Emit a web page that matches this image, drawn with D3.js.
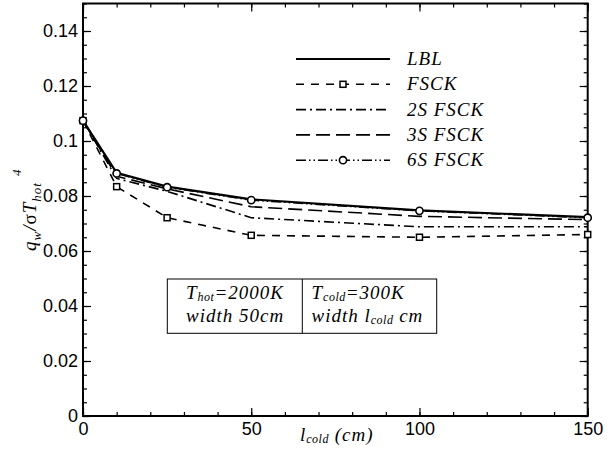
<!DOCTYPE html>
<meta charset="utf-8">
<style>
body { margin: 0; background: #fff; }
.tick text { font-family: "Liberation Sans", Arial, sans-serif; font-size: 18px; fill: #000; }
.axis path.domain { display: none; }
.axis line { stroke: #000; stroke-width: 1.2px; }
.lab { font-family: "Liberation Serif", "Times New Roman", serif; font-style: italic; font-size: 19px; letter-spacing: 1px; fill: #000; }
</style>
<body>
<svg id="chart"></svg>
<script src="https://d3js.org/d3.v7.min.js"></script>
<script>

var width = 613,
    height = 461;

// l_cold (cm)
var xs = [0, 10, 25, 50, 100, 150];

// q_w / sigma T_hot^4
var lbl  = [0.1074, 0.0884, 0.0834, 0.0788, 0.0748, 0.0723];
var fsck = [0.1074, 0.0834, 0.0721, 0.0657, 0.0650, 0.0660];
var s2   = [0.1074, 0.0864, 0.0817, 0.0721, 0.0688, 0.0688];
var s3   = [0.1074, 0.0872, 0.0826, 0.0761, 0.0726, 0.0714];
var s6   = [0.1074, 0.0882, 0.0832, 0.0785, 0.0746, 0.0721];

var names = ["LBL", "FSCK", "2S FSCK", "3S FSCK", "6S FSCK"];

var xMajor = [0, 50, 100, 150];
var yMajor = [0, 0.02, 0.04, 0.06, 0.08, 0.1, 0.12, 0.14];
var yLabels = ["0", "0.02", "0.04", "0.06", "0.08", "0.1", "0.12", "0.14"];

var series = [
  { name: names[0], vals: lbl,  dash: null,                   width: 2.2, mark: null },
  { name: names[1], vals: fsck, dash: "8,7",                  width: 1.6, mark: "square" },
  { name: names[2], vals: s2,   dash: "10,4,2,4",             width: 1.6, mark: null },
  { name: names[3], vals: s3,   dash: "14,6",                 width: 1.6, mark: null },
  { name: names[4], vals: s6,   dash: "10,3,1.5,3,1.5,3",     width: 1.6, mark: "circle" }
];

var x = d3.scaleLinear().domain([0, 150]).range([83, 587.7]);
var y = d3.scaleLinear().domain([0, 0.15]).range([416, 3.5]);

var svg = d3.select("#chart")
    .attr("width", width)
    .attr("height", height);

// minor + major ticks, all pointing inward
var xMinor = d3.range(0, 151, 10);
var yMinor = d3.range(0, 0.1501, 0.005);

function addAxis(gen, tx, ty) {
  return svg.append("g").attr("class", "axis")
      .attr("transform", "translate(" + tx + "," + ty + ")")
      .call(gen);
}

addAxis(d3.axisBottom(x).tickValues(xMinor).tickSize(-4).tickFormat(""), 0, 416);
addAxis(d3.axisBottom(x).tickValues(xMajor).tickSize(-8).tickPadding(6).tickFormat(d3.format("d")), 0, 416);
addAxis(d3.axisTop(x).tickValues(xMinor).tickSize(-4).tickFormat(""), 0, 3.5);
addAxis(d3.axisTop(x).tickValues(xMajor).tickSize(-8).tickFormat(""), 0, 3.5);

addAxis(d3.axisLeft(y).tickValues(yMinor).tickSize(-4).tickFormat(""), 83, 0);
addAxis(d3.axisLeft(y).tickValues(yMajor).tickSize(-8).tickPadding(5)
    .tickFormat(function(d, i) { return yLabels[i]; }), 83, 0);
addAxis(d3.axisRight(y).tickValues(yMinor).tickSize(-4).tickFormat(""), 587.7, 0);
addAxis(d3.axisRight(y).tickValues(yMajor).tickSize(-8).tickFormat(""), 587.7, 0);

// frame
svg.append("rect")
    .attr("x", x(0)).attr("y", y(0.15))
    .attr("width", x(150) - x(0)).attr("height", y(0) - y(0.15))
    .attr("fill", "none").attr("stroke", "#000").attr("stroke-width", 2);

var line = d3.line()
    .x(function(d) { return x(d[0]); })
    .y(function(d) { return y(d[1]); });

function drawMark(sel, kind) {
  if (kind === "square") {
    sel.append("rect")
        .attr("x", -3).attr("y", -3).attr("width", 6).attr("height", 6)
        .attr("fill", "#fff").attr("stroke", "#000").attr("stroke-width", 1.5);
  } else if (kind === "circle") {
    sel.append("circle")
        .attr("r", 3.6)
        .attr("fill", "#fff").attr("stroke", "#000").attr("stroke-width", 1.6);
  }
}

series.forEach(function(s) {
  var pts = xs.map(function(v, i) { return [v, s.vals[i]]; });
  svg.append("path")
      .datum(pts)
      .attr("d", line)
      .attr("fill", "none")
      .attr("stroke", "#000")
      .attr("stroke-width", s.width)
      .attr("stroke-dasharray", s.dash);
  if (s.mark) {
    svg.append("g").selectAll("g")
        .data(pts)
      .enter().append("g")
        .attr("transform", function(d) { return "translate(" + x(d[0]) + "," + y(d[1]) + ")"; })
        .each(function() { drawMark(d3.select(this), s.mark); });
  }
});

// legend
var legend = svg.append("g");
series.forEach(function(s, i) {
  var ly = 59 + i * 25.3;
  legend.append("line")
      .attr("x1", 296).attr("x2", 390).attr("y1", ly).attr("y2", ly)
      .attr("stroke", "#000").attr("stroke-width", s.width)
      .attr("stroke-dasharray", s.dash);
  if (s.mark) {
    drawMark(legend.append("g").attr("transform", "translate(343," + ly + ")"), s.mark);
  }
  legend.append("text")
      .attr("class", "lab")
      .attr("x", 407).attr("y", ly + 6)
      .text(s.name);
});

// annotation box
var box = svg.append("g");
box.append("rect")
    .attr("x", 167.3).attr("y", 279).attr("width", 269.4).attr("height", 54.3)
    .attr("fill", "#fff").attr("stroke", "#000").attr("stroke-width", 1);
box.append("line")
    .attr("x1", 302.3).attr("x2", 302.3).attr("y1", 279).attr("y2", 333.3)
    .attr("stroke", "#000").attr("stroke-width", 1);

function subText(g, px, py, parts) {
  var t = g.append("text").attr("class", "lab").attr("x", px).attr("y", py);
  parts.forEach(function(p) {
    var ts = t.append("tspan").text(p[0]);
    if (p[1] === "sub") ts.attr("font-size", "12px").attr("letter-spacing", "0.5px").attr("dy", 2);
    else if (p[1] === "back") ts.attr("dy", -2);
  });
  return t;
}

subText(box, 186, 299, [["T"], ["hot", "sub"], ["=2000K", "back"]]);
subText(box, 186, 322, [["width 50cm"]]);
subText(box, 311.5, 299, [["T"], ["cold", "sub"], ["=300K", "back"]]);
subText(box, 311.5, 322, [["width l"], ["cold", "sub"], [" cm", "back"]]);

// x axis title
subText(svg, 300, 441, [["l"], ["cold", "sub"], [" (cm)", "back"]]);

// y axis title
var yt = svg.append("text")
    .attr("class", "lab")
    .attr("letter-spacing", "0.5px")
    .attr("transform", "translate(36,251) rotate(-90)");
yt.append("tspan").text("q");
yt.append("tspan").text("w").attr("font-size", "13px").attr("dy", 5);
yt.append("tspan").text("/").attr("dy", -5);
yt.append("tspan").text("σ").attr("font-style", "normal");
yt.append("tspan").text("T");
yt.append("tspan").text("hot").attr("font-size", "13px").attr("dy", 5);
yt.append("tspan").text("4").attr("font-size", "13px").attr("dx", 6).attr("dy", -20);

</script>
</body>
